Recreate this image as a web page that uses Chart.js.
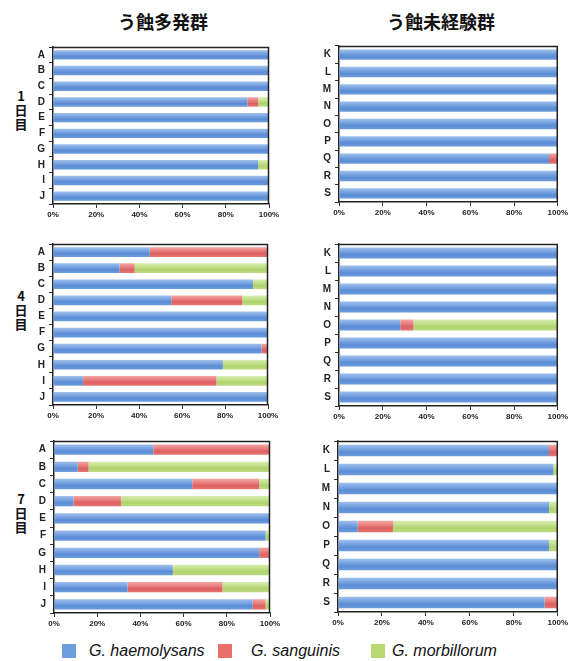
<!DOCTYPE html>
<html><head><meta charset="utf-8">
<script src="https://cdn.jsdelivr.net/npm/chart.js@4"></script>
<style>
html,body{margin:0;padding:0;background:#fff;}
body{width:570px;height:661px;position:relative;overflow:hidden;font-family:"Liberation Sans",Arial,sans-serif;}
canvas{position:absolute;}
.title{position:absolute;font-family:"Noto Sans CJK JP",sans-serif;font-weight:bold;font-size:18px;color:#111;transform:translate(-50%,-50%);white-space:nowrap;line-height:1;}
.row{position:absolute;font-family:"Noto Sans CJK JP",sans-serif;font-weight:bold;font-size:13px;line-height:14px;color:#111;text-align:center;width:20px;transform:translate(-50%,-50%);}
.sw{position:absolute;width:14px;height:14px;}
.lt{position:absolute;font-family:"Liberation Sans",Arial,sans-serif;font-style:italic;font-size:16px;color:#111;line-height:1;transform:translateY(-50%);white-space:nowrap;}
</style>
</head><body>
<div class="title" style="left:163px;top:21px;">う蝕多発群</div>
<div class="title" style="left:441px;top:21px;">う蝕未経験群</div>
<div class="row" style="left:21px;top:110px;">1<br>日<br>目</div>
<div class="row" style="left:21px;top:310px;">4<br>日<br>目</div>
<div class="row" style="left:21px;top:513px;">7<br>日<br>目</div>
<div id="legend"></div>
<script>
// ---- data ----
const groupCaries = ['A','B','C','D','E','F','G','H','I','J'];
const groupFree = ['K','L','M','N','O','P','Q','R','S'];
const seriesNames = ['G. haemolysans','G. sanguinis','G. morbillorum'];
const xTicks = [0,20,40,60,80,100];

const d1CariesHaem = [100,100,100,90,100,100,100,95,100,100];
const d1CariesSang = [0,0,0,5,0,0,0,0,0,0];
const d1CariesMorb = [0,0,0,5,0,0,0,5,0,0];
const d1FreeHaem = [100,100,100,100,100,100,96,100,100];
const d1FreeSang = [0,0,0,0,0,0,4,0,0];
const d1FreeMorb = [0,0,0,0,0,0,0,0,0];

const d4CariesHaem = [45,31,93,55,100,100,97,79,14,100];
const d4CariesSang = [55,7,0,33,0,0,3,0,62,0];
const d4CariesMorb = [0,62,7,12,0,0,0,21,24,0];
const d4FreeHaem = [100,100,100,100,28,100,100,100,100];
const d4FreeSang = [0,0,0,0,6,0,0,0,0];
const d4FreeMorb = [0,0,0,0,66,0,0,0,0];

const d7CariesHaem = [46,11,64,9,100,98,95,55,34,92];
const d7CariesSang = [54,5,31,22,0,0,5,0,44,6];
const d7CariesMorb = [0,84,5,69,0,2,0,45,22,2];
const d7FreeHaem = [96,98,100,96,9,96,100,100,94];
const d7FreeSang = [4,0,0,0,16,0,0,0,6];
const d7FreeMorb = [0,2,0,4,75,4,0,0,0];

// ---- styles ----
const legendColors = ['#6e9edd','#e8706a','#b7d96f'];
const gradStops = [
  ['#9ebfeb','#80a9e4','#5b8cd5','#6c9bdb'],
  ['#f3a3a1','#eb8886','#dd6161','#e47473'],
  ['#d8ecb1','#c7e393','#b0d26e','#bddb84']
];

function gradFill(i){
  return function(ctx){
    const chart = ctx.chart;
    const y = chart.scales && chart.scales.y;
    if(!y || !chart.chartArea || ctx.type !== 'data') return legendColors[i];
    const c = y.getPixelForValue(ctx.dataIndex);
    const h = (y.height / chart.data.labels.length) * 0.6 / 2;
    const g = chart.ctx.createLinearGradient(0, c - h, 0, c + h);
    const s = gradStops[i];
    g.addColorStop(0, s[0]); g.addColorStop(0.3, s[1]); g.addColorStop(0.65, s[2]); g.addColorStop(1, s[3]);
    return g;
  };
}

const frame = {
  id:'frame',
  afterDraw(chart){
    const a = chart.chartArea, c = chart.ctx;
    c.save(); c.strokeStyle = '#222'; c.lineWidth = 1.5;
    c.beginPath();
    c.moveTo(a.left, a.top + 0.5); c.lineTo(a.right - 0.5, a.top + 0.5); c.lineTo(a.right - 0.5, a.bottom);
    c.stroke(); c.restore();
  }
};

const panels = [
  {labels:groupCaries, vals:[d1CariesHaem,d1CariesSang,d1CariesMorb], left:53, right:269, top:41, bottom:204, pr:16},
  {labels:groupFree,   vals:[d1FreeHaem,d1FreeSang,d1FreeMorb],       left:339, right:558, top:40, bottom:202, pr:12},
  {labels:groupCaries, vals:[d4CariesHaem,d4CariesSang,d4CariesMorb], left:53, right:268, top:238, bottom:405, pr:16},
  {labels:groupFree,   vals:[d4FreeHaem,d4FreeSang,d4FreeMorb],       left:339, right:558, top:238, bottom:406, pr:12},
  {labels:groupCaries, vals:[d7CariesHaem,d7CariesSang,d7CariesMorb], left:54, right:270, top:435, bottom:613, pr:16},
  {labels:groupFree,   vals:[d7FreeHaem,d7FreeSang,d7FreeMorb],       left:338, right:558, top:435, bottom:612, pr:12}
];

const YW = 30, PT = 4, XH = 22;
panels.forEach(p => {
  const cv = document.createElement('canvas');
  const w = YW + (p.right - p.left) + p.pr;
  const h = PT + (p.bottom - p.top) + XH;
  cv.width = w; cv.height = h;
  cv.style.left = (p.left - YW) + 'px';
  cv.style.top = (p.top - PT) + 'px';
  cv.style.width = w + 'px'; cv.style.height = h + 'px';
  document.body.appendChild(cv);
  new Chart(cv, {
    type:'bar',
    data:{
      labels:p.labels,
      datasets:p.vals.map((v,i)=>({
        label:seriesNames[i], data:v,
        backgroundColor:gradFill(i), borderWidth:0,
        barPercentage:0.6, categoryPercentage:1
      }))
    },
    options:{
      indexAxis:'y', responsive:false, animation:false, devicePixelRatio:1,
      layout:{padding:{top:PT, right:p.pr, left:0, bottom:0}},
      plugins:{legend:{display:false}, tooltip:{enabled:false}},
      scales:{
        x:{
          stacked:true, min:0, max:100,
          afterBuildTicks:s => { s.ticks = xTicks.map(v => ({value:v})); },
          afterFit:s => { s.height = XH; },
          grid:{drawOnChartArea:false, drawTicks:true, tickLength:4, color:'#333'},
          border:{display:true, color:'#222', width:1.5},
          ticks:{callback:v => v + '%', font:{size:8, weight:'bold', family:'Liberation Sans'}, color:'#222', padding:2, maxRotation:0}
        },
        y:{
          stacked:true,
          afterFit:s => { s.width = YW; },
          grid:{drawOnChartArea:false, drawTicks:true, tickLength:4, offset:true, color:'#333'},
          border:{display:true, color:'#222', width:1.5},
          ticks:{font:{size:10, weight:'bold', family:'Liberation Sans'}, color:'#222', padding:4}
        }
      }
    },
    plugins:[frame]
  });
});

// legend
const legendPos = [{sw:62, tx:89},{sw:218, tx:251},{sw:371, tx:392}];
const lg = document.getElementById('legend');
seriesNames.forEach((n,i) => {
  const s = document.createElement('div');
  s.className = 'sw'; s.style.left = legendPos[i].sw + 'px'; s.style.top = '644px'; s.style.background = legendColors[i];
  lg.appendChild(s);
  const t = document.createElement('div');
  t.className = 'lt'; t.style.left = legendPos[i].tx + 'px'; t.style.top = '651px'; t.textContent = n;
  lg.appendChild(t);
});
</script>
</body></html>
